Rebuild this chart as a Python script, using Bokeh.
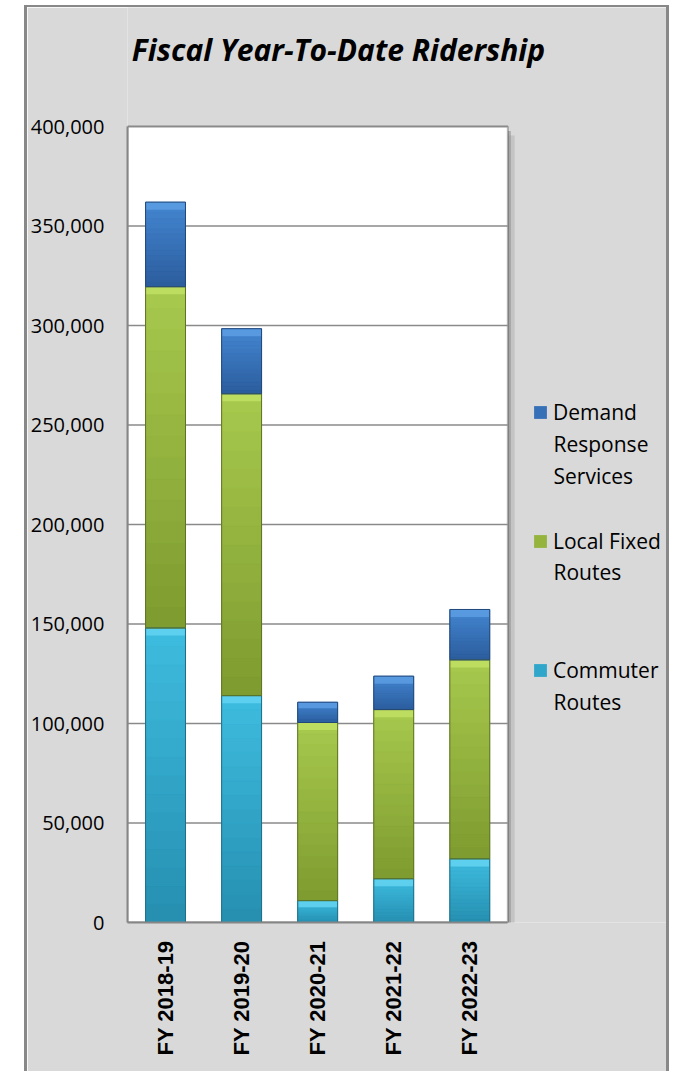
from math import pi
from bokeh.plotting import figure
from bokeh.models import (ColumnDataSource, Legend, LegendItem, Label, NumeralTickFormatter,
                          FixedTicker, BoxAnnotation, Range1d)
from bokeh.embed import file_html
from bokeh.resources import INLINE

years = ["FY 2018-19", "FY 2019-20", "FY 2020-21", "FY 2021-22", "FY 2022-23"]
commuter = [148000, 114000, 11000, 22000, 32000]
local_fixed = [171500, 151700, 89500, 85000, 100000]
demand = [42500, 32700, 10200, 16800, 25300]
series_keys = ["commuter", "local_fixed", "demand"]
legend_first = ["Commuter", "Local Fixed", "Demand"]
legend_rest = [["Routes"], ["Routes"], ["Response", "Services"]]
fill_colors = ["#30A6CA", "#94B43D", "#3670B7"]
top_colors = ["#3DBBDE", "#A6C84D", "#4385D0"]
bottom_colors = ["#2790B1", "#7F9C30", "#2C5E9E"]
bevel_colors = ["#66D6F2", "#C3E266", "#5E9FE4"]
line_colors = ["#1F6F88", "#5E7424", "#22487A"]
y_ticks = [0, 50000, 100000, 150000, 200000, 250000, 300000, 350000, 400000]
title_text = "Fiscal Year-To-Date Ridership"

n = len(years)
y_max = 400000
xpos = [i + 0.5 for i in range(n)]
data = dict(x=xpos, commuter=commuter, local_fixed=local_fixed, demand=demand)
src = ColumnDataSource(data)
bar_w = 0.525

# frame spans plot box, title area and legend area; plot box is [0, n] x [0, y_max]
p = figure(x_range=Range1d(0, 7.165), y_range=Range1d(0, y_max * 915 / 796),
           width=645, height=1066, output_backend="svg", toolbar_location=None,
           min_border_left=99, min_border_right=0, min_border_top=0, min_border_bottom=151,
           margin=(5, 0, 0, 24))
p.styles = {"border-top": "2px solid #888888", "border-left": "3px solid #888888",
            "border-right": "3px solid #888888"}
p.background_fill_color = "#d9d9d9"
p.border_fill_color = "#d9d9d9"
p.outline_line_color = None
p.grid.grid_line_color = None

# shadow + white plot area
p.add_layout(BoxAnnotation(left=0.09, right=n + 0.09, bottom=-4500, top=y_max - 4500,
                           fill_color="#b5b5b5", fill_alpha=0.6, line_color=None,
                           level="underlay"))
p.add_layout(BoxAnnotation(left=0.04, right=n + 0.04, bottom=-2200, top=y_max - 2200,
                           fill_color="#8f8f8f", fill_alpha=0.6, line_color=None,
                           level="underlay"))
p.add_layout(BoxAnnotation(left=0, right=n, bottom=0, top=y_max, fill_color="white",
                           fill_alpha=1, line_color="#1a1a1a", line_width=2, level="underlay"))

# gridlines inside plot area
p.segment(x0=[0] * len(y_ticks), x1=[n] * len(y_ticks), y0=y_ticks, y1=y_ticks,
          line_color="#8a8a8a", line_width=1.5)

rs = p.vbar_stack(series_keys, x="x", width=bar_w, source=src,
                  fill_color=fill_colors, line_color=None)


def mix(c1, c2, t):
    a = [int(c1[i:i + 2], 16) for i in (1, 3, 5)]
    b = [int(c2[i:i + 2], 16) for i in (1, 3, 5)]
    return "#%02x%02x%02x" % tuple(round(a[j] + (b[j] - a[j]) * t) for j in range(3))


# vertical shading of each stacked segment (light at top, dark at bottom) + top bevel
K = 16
base = [0] * n
for key, ct, cb, cv in zip(series_keys, top_colors, bottom_colors, bevel_colors):
    vals = data[key]
    for k in range(K):
        lo = [b + v * k / K for b, v in zip(base, vals)]
        hi = [b + v * (k + 1) / K for b, v in zip(base, vals)]
        p.vbar(x=xpos, bottom=lo, top=hi, width=bar_w, fill_color=mix(cb, ct, k / (K - 1)),
               line_color=mix(cb, ct, k / (K - 1)), line_width=0.5)
    tops = [b + v for b, v in zip(base, vals)]
    bev = [t - min(3800, v * 0.3) for t, v in zip(tops, vals)]
    p.vbar(x=xpos, bottom=bev, top=tops, width=bar_w * 0.97, fill_color=cv, fill_alpha=0.8,
           line_color=None)
    base = tops

p.vbar_stack(series_keys, x="x", width=bar_w, source=src, fill_alpha=0,
             line_color=line_colors, line_width=1)

p.yaxis.ticker = FixedTicker(ticks=y_ticks)
p.yaxis.bounds = (0, y_max)
p.yaxis.formatter = NumeralTickFormatter(format="0,0")
p.yaxis.major_label_text_font = "Open Sans"
p.yaxis.major_label_text_font_size = "20px"
p.yaxis.major_label_text_color = "black"
p.yaxis.major_tick_in = 0
p.yaxis.major_tick_out = 0
p.yaxis.minor_tick_in = 0
p.yaxis.minor_tick_out = 0
p.yaxis.major_label_standoff = 23
p.yaxis.axis_line_color = "#868686"
p.yaxis.axis_line_width = 2

p.xaxis.ticker = FixedTicker(ticks=xpos)
p.xaxis.major_label_overrides = {x: y for x, y in zip(xpos, years)}
p.xaxis.bounds = (0, n)
p.xaxis.major_label_orientation = pi / 2
p.xaxis.major_label_text_font = "Liberation Sans"
p.xaxis.major_label_text_font_style = "bold"
p.xaxis.major_label_text_font_size = "22px"
p.xaxis.major_label_text_color = "black"
p.xaxis.major_tick_in = 0
p.xaxis.major_tick_out = 0
p.xaxis.minor_tick_in = 0
p.xaxis.minor_tick_out = 0
p.xaxis.major_label_standoff = 18
p.xaxis.axis_line_color = "#868686"
p.xaxis.axis_line_width = 2

p.add_layout(Label(x=211, y=873, x_units="screen", y_units="screen", text=title_text,
                   text_font="Open Sans", text_font_style="bold italic",
                   text_font_size="30px", text_align="center", text_baseline="middle",
                   text_color="black"))

items = [LegendItem(label=lab, renderers=[r]) for r, lab in zip(rs, legend_first)][::-1]
lg = Legend(items=items, location=(405, 238),
            label_text_font="Open Sans", label_text_font_size="21px", label_text_color="black",
            label_height=28, glyph_width=16, glyph_height=16,
            label_standoff=5, padding=0, margin=0, border_line_color=None,
            background_fill_alpha=0, spacing=101)
p.add_layout(lg, "center")

# continuation lines of the wrapped legend labels
first_line_y = {"Demand": 922 - 412, "Local Fixed": 922 - 540, "Commuter": 922 - 670}
for first, rest in zip(legend_first, legend_rest):
    for k, line in enumerate(rest):
        p.add_layout(Label(x=426, y=first_line_y[first] - 31.5 * (k + 1), x_units="screen",
                           y_units="screen", text=line, text_font="Open Sans",
                           text_font_size="21px", text_color="black", text_baseline="middle"))

open("out.html", "w").write(file_html(p, INLINE))
